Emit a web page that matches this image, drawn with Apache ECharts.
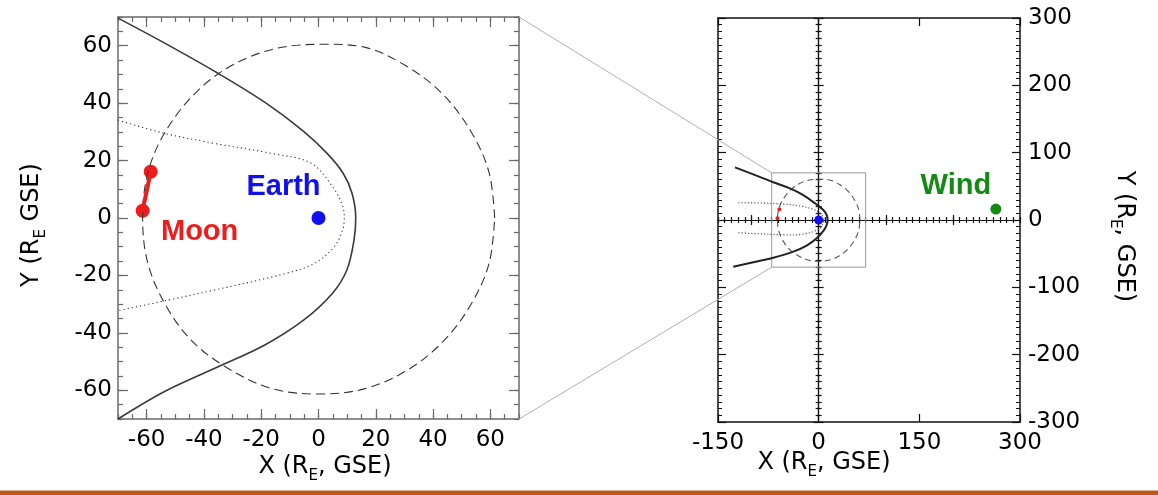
<!DOCTYPE html>
<html>
<head>
<meta charset="utf-8">
<script src="https://cdn.jsdelivr.net/npm/echarts@6.0.0/dist/echarts.min.js"></script>
<style>html,body{margin:0;padding:0;background:#fff}#c{width:1158px;height:495px}</style>
</head>
<body>
<div id="c"></div>
<script>
// ---------- data ----------
const leftExtent = [-70, 70];
const leftTicks = [-60, -40, -20, 0, 20, 40, 60];
const rightXExtent = [-150, 300];
const rightYExtent = [-300, 300];
const centerMajorX = [-100, 100, 200];

const bowShockLeft = [[-70, 69.6], [-52.6, 60.3], [-35.1, 50.4], [-18.3, 40], [-5.1, 30.1], [3, 22.5], [8.6, 15.6], [11.7, 8.6], [13, 0], [12.4, -7.7], [9.9, -18.1], [4.9, -26.2], [-5.1, -35.5], [-18.9, -44.3], [-36.4, -52.4], [-53.9, -60.5], [-70, -70]];
const magnetopauseLeft = [[-70, 34.1], [-53.9, 29.5], [-36.4, 26], [-16.4, 22.5], [-2.6, 19.1], [4.9, 10.9], [8.3, 4.5], [9, 0], [8.3, -4.5], [5.5, -10], [-1.4, -15.8], [-11.4, -19.3], [-36.4, -25.1], [-52.6, -28.6], [-70, -32.3]];
const moonOrbit = [[61.5, 0], [59.5, 16], [53, 30.5], [43, 43.5], [30.5, 53], [16, 59.5], [2, 60.5], [-15, 59], [-30.5, 53], [-43, 43.5], [-53.5, 30], [-59.5, 16], [-61.4, 0], [-59.5, -16], [-53, -31], [-43.5, -43.5], [-30.5, -53], [-16, -59.5], [0, -61.3], [16, -59.5], [31, -53], [43.5, -43], [53, -30.5], [59.5, -16], [61.5, 0]];
const moonPos = [[-61.4, 2.5], [-58.6, 16.1]];
const earthPos = [[0, 0]];

const bowShockRight = [[-124.7, 78.2], [-97.4, 67.8], [-67.6, 56], [-42.8, 47], [-22.9, 37.1], [-5.5, 24.8], [6.9, 14.9], [11.9, 7.4], [13.4, 0], [11.9, -7.4], [7.9, -14.9], [-3, -27.2], [-17.9, -38.1], [-37.8, -47], [-67.6, -56], [-97.4, -62.8], [-127.3, -69.3]];
const magnetopauseRight = [[-119.8, 25.7], [-72.6, 24.8], [-37.8, 22.3], [-15.5, 18.3], [-0.6, 12.4], [6, 6], [7.9, 0], [6, -6], [1.9, -12.4], [-13, -18.8], [-37.8, -22.3], [-72.6, -21.3], [-122, -18.8]];
const windPos = [[264, 16.3]];

// zoom box (left panel extent) drawn in right panel
const zoomBox = [[leftExtent[0], leftExtent[0]], [leftExtent[1], leftExtent[0]], [leftExtent[1], leftExtent[1]], [leftExtent[0], leftExtent[1]], [leftExtent[0], leftExtent[0]]];

// ---------- styles ----------
const FONT = "'DejaVu Sans', 'Liberation Sans', Arial, sans-serif";
const BFONT = "'Liberation Sans', Arial, Helvetica, sans-serif";
const RED = '#ee1c1c', BLUE = '#1010ee', GREEN = '#138a13';
function nameStyle(padding) {
  return {
    fontSize: 24, color: '#000', fontFamily: FONT, lineHeight: 34, padding: padding,
    rich: { sub: { fontSize: 15, lineHeight: 12, verticalAlign: 'bottom', fontFamily: FONT, color: '#000' } }
  };
}
const labelStyle = (margin) => ({ show: true, fontSize: 23, color: '#000', fontFamily: FONT, margin: margin });
const LG = '#6a6a6a';   // left box colour
const RB = '#111';      // right box colour

function axis(o) {
  const base = {
    type: 'value', splitLine: { show: false }, axisPointer: { show: false }, silent: true,
    axisLabel: { show: false }, nameMoveOverlap: false
  };
  return Object.assign(base, o);
}

const xAxes = [
  // 0 left bottom major
  axis({ gridIndex: 0, min: leftExtent[0], max: leftExtent[1], position: 'bottom',
    axisLine: { show: true, onZero: false, lineStyle: { color: LG, width: 1.5 } },
    axisTick: { show: true, inside: true, length: 10, customValues: leftTicks, lineStyle: { color: LG, width: 1.2 } },
    axisLabel: Object.assign(labelStyle(10), { customValues: leftTicks }),
    name: 'X (R{sub|E}, GSE)', nameLocation: 'middle', nameGap: 31, nameTextStyle: nameStyle([0, 0, 0, 13]) }),
  // 1 left bottom minor
  axis({ gridIndex: 0, min: leftExtent[0], max: leftExtent[1], interval: 5, position: 'bottom',
    axisLine: { show: false, onZero: false },
    axisTick: { show: true, inside: true, length: 5, lineStyle: { color: LG, width: 1.2 } } }),
  // 2 left top major
  axis({ gridIndex: 0, min: leftExtent[0], max: leftExtent[1], position: 'top',
    axisLine: { show: true, onZero: false, lineStyle: { color: LG, width: 1.5 } },
    axisTick: { show: true, inside: true, length: 10, customValues: leftTicks, lineStyle: { color: LG, width: 1.2 } } }),
  // 3 left top minor
  axis({ gridIndex: 0, min: leftExtent[0], max: leftExtent[1], interval: 5, position: 'top',
    axisLine: { show: false, onZero: false },
    axisTick: { show: true, inside: true, length: 5, lineStyle: { color: LG, width: 1.2 } } }),
  // 4 right bottom
  axis({ gridIndex: 1, min: rightXExtent[0], max: rightXExtent[1], interval: 150, position: 'bottom',
    axisLine: { show: true, onZero: false, lineStyle: { color: RB, width: 1.5 } },
    axisTick: { show: true, inside: true, length: 8, lineStyle: { color: RB, width: 1.2 } },
    axisLabel: labelStyle(10),
    name: 'X (R{sub|E}, GSE)', nameLocation: 'middle', nameGap: 24, nameTextStyle: nameStyle([0, 90, 0, 0]) }),
  // 5 right top
  axis({ gridIndex: 1, min: rightXExtent[0], max: rightXExtent[1], interval: 150, position: 'top',
    axisLine: { show: true, onZero: false, lineStyle: { color: RB, width: 1.5 } },
    axisTick: { show: true, inside: true, length: 8, lineStyle: { color: RB, width: 1.2 } } }),
  // 6 centre minor (up)
  axis({ gridIndex: 1, min: rightXExtent[0], max: rightXExtent[1], interval: 10, position: 'bottom',
    axisLine: { show: true, onZero: true, onZeroAxisIndex: 4, lineStyle: { color: RB, width: 1.2 } },
    axisTick: { show: true, inside: true, length: 3, lineStyle: { color: RB, width: 1.2 } } }),
  // 7 centre minor (down)
  axis({ gridIndex: 1, min: rightXExtent[0], max: rightXExtent[1], interval: 10, position: 'bottom',
    axisLine: { show: true, onZero: true, onZeroAxisIndex: 4, lineStyle: { color: RB, width: 1.2 } },
    axisTick: { show: true, inside: false, length: 3, lineStyle: { color: RB, width: 1.2 } } }),
  // 8 centre major (up)
  axis({ gridIndex: 1, min: rightXExtent[0], max: rightXExtent[1], position: 'bottom',
    axisLine: { show: true, onZero: true, onZeroAxisIndex: 4, lineStyle: { color: RB, width: 1.2 } },
    axisTick: { show: true, inside: true, length: 5, customValues: centerMajorX, lineStyle: { color: RB, width: 1.2 } } }),
  // 9 centre major (down)
  axis({ gridIndex: 1, min: rightXExtent[0], max: rightXExtent[1], position: 'bottom',
    axisLine: { show: true, onZero: true, onZeroAxisIndex: 4, lineStyle: { color: RB, width: 1.2 } },
    axisTick: { show: true, inside: false, length: 5, customValues: centerMajorX, lineStyle: { color: RB, width: 1.2 } } })
];

const yAxes = [
  // 0 left major (labels)
  axis({ gridIndex: 0, min: leftExtent[0], max: leftExtent[1], position: 'left',
    axisLine: { show: true, onZero: false, lineStyle: { color: LG, width: 1.5 } },
    axisTick: { show: true, inside: true, length: 10, customValues: leftTicks, lineStyle: { color: LG, width: 1.2 } },
    axisLabel: Object.assign(labelStyle(6), { customValues: leftTicks }),
    name: 'Y (R{sub|E} GSE)', nameLocation: 'middle', nameGap: 69, nameTextStyle: nameStyle([0, 14, 0, 0]) }),
  // 1 left minor
  axis({ gridIndex: 0, min: leftExtent[0], max: leftExtent[1], interval: 5, position: 'left',
    axisLine: { show: false, onZero: false },
    axisTick: { show: true, inside: true, length: 5, lineStyle: { color: LG, width: 1.2 } } }),
  // 2 left-panel right side major
  axis({ gridIndex: 0, min: leftExtent[0], max: leftExtent[1], position: 'right',
    axisLine: { show: true, onZero: false, lineStyle: { color: LG, width: 1.5 } },
    axisTick: { show: true, inside: true, length: 10, customValues: leftTicks, lineStyle: { color: LG, width: 1.2 } } }),
  // 3 left-panel right side minor
  axis({ gridIndex: 0, min: leftExtent[0], max: leftExtent[1], interval: 5, position: 'right',
    axisLine: { show: false, onZero: false },
    axisTick: { show: true, inside: true, length: 5, lineStyle: { color: LG, width: 1.2 } } }),
  // 4 right panel, right side (labels)
  axis({ gridIndex: 1, min: rightYExtent[0], max: rightYExtent[1], interval: 100, position: 'right',
    axisLine: { show: true, onZero: false, lineStyle: { color: RB, width: 1.5 } },
    axisTick: { show: true, inside: true, length: 8, lineStyle: { color: RB, width: 1.2 } },
    minorTick: { show: true, splitNumber: 10, length: 4, lineStyle: { color: RB, width: 1 } },
    axisLabel: labelStyle(8),
    name: 'Y (R{sub|E}, GSE)', nameLocation: 'middle', nameGap: 87, nameRotate: -90, nameTextStyle: nameStyle([0, 0, 0, 33]) }),
  // 5 right panel, left side
  axis({ gridIndex: 1, min: rightYExtent[0], max: rightYExtent[1], interval: 100, position: 'left',
    axisLine: { show: true, onZero: false, lineStyle: { color: RB, width: 1.5 } },
    axisTick: { show: true, inside: true, length: 8, lineStyle: { color: RB, width: 1.2 } },
    minorTick: { show: true, splitNumber: 10, length: 4, lineStyle: { color: RB, width: 1 } } }),
  // 6 centre vertical (right-pointing ticks)
  axis({ gridIndex: 1, min: rightYExtent[0], max: rightYExtent[1], interval: 100, position: 'left',
    axisLine: { show: true, onZero: true, onZeroAxisIndex: 4, lineStyle: { color: RB, width: 1.2 } },
    axisTick: { show: true, inside: true, length: 5, lineStyle: { color: RB, width: 1.2 } },
    minorTick: { show: true, splitNumber: 10, length: 3, lineStyle: { color: RB, width: 1.2 } } }),
  // 7 centre vertical (left-pointing ticks)
  axis({ gridIndex: 1, min: rightYExtent[0], max: rightYExtent[1], interval: 100, position: 'left',
    axisLine: { show: true, onZero: true, onZeroAxisIndex: 4, lineStyle: { color: RB, width: 1.2 } },
    axisTick: { show: true, inside: false, length: 5, lineStyle: { color: RB, width: 1.2 } },
    minorTick: { show: true, splitNumber: 10, length: 3, lineStyle: { color: RB, width: 1.2 } } })
];

const L = { xAxisIndex: 0, yAxisIndex: 0 };
const R = { xAxisIndex: 4, yAxisIndex: 4 };
const boldLabel = (text, color, size, offset) => ({
  show: true, formatter: text, position: 'inside', offset: offset,
  color: color, fontSize: size, fontWeight: 'bold', fontFamily: BFONT
});

const series = [
  // ----- left panel -----
  Object.assign({ type: 'line', data: moonOrbit, smooth: 0.35, symbol: 'none', silent: true,
    lineStyle: { color: '#333', width: 1.1, type: [9, 5] } }, L),
  Object.assign({ type: 'line', data: magnetopauseLeft, smooth: 0.35, symbol: 'none', silent: true,
    lineStyle: { color: '#333', width: 1.1, type: [1.2, 3] } }, L),
  Object.assign({ type: 'line', data: bowShockLeft, smooth: 0.35, symbol: 'none', silent: true,
    lineStyle: { color: '#3a3a3a', width: 1.6 } }, L),
  Object.assign({ type: 'line', data: moonPos, symbol: 'none', silent: true,
    lineStyle: { color: RED, width: 4 } }, L),
  Object.assign({ type: 'scatter', silent: true, symbolSize: 14, itemStyle: { color: RED, opacity: 1 },
    data: moonPos.map((p, i) => i === 0 ? { value: p, label: boldLabel('Moon', RED, 29, [57, 21]) } : { value: p }) }, L),
  Object.assign({ type: 'scatter', silent: true, symbolSize: 14, itemStyle: { color: BLUE, opacity: 1 },
    data: earthPos.map(p => ({ value: p, label: boldLabel('Earth', BLUE, 29, [-35, -31]) })) }, L),
  // ----- right panel -----
  Object.assign({ type: 'line', data: zoomBox, symbol: 'none', silent: true,
    lineStyle: { color: '#9a9a9a', width: 1 } }, R),
  Object.assign({ type: 'line', data: moonOrbit, smooth: 0.35, symbol: 'none', silent: true,
    lineStyle: { color: '#555', width: 1.1, type: [6, 4] } }, R),
  Object.assign({ type: 'line', data: magnetopauseRight, smooth: 0.3, symbol: 'none', silent: true,
    lineStyle: { color: '#444', width: 1.1, type: [1.2, 2] } }, R),
  Object.assign({ type: 'line', data: bowShockRight, smooth: 0.35, symbol: 'none', silent: true,
    lineStyle: { color: '#222', width: 2 } }, R),
  Object.assign({ type: 'scatter', silent: true, symbolSize: 4, itemStyle: { color: RED, opacity: 1 }, data: moonPos }, R),
  Object.assign({ type: 'scatter', silent: true, symbolSize: 9, itemStyle: { color: BLUE, opacity: 1 }, data: earthPos }, R),
  Object.assign({ type: 'scatter', silent: true, symbolSize: 11, itemStyle: { color: GREEN, opacity: 1 },
    data: windPos.map(p => ({ value: p, label: boldLabel('Wind', GREEN, 29, [-40, -23]) })) }, R)
];

const chart = echarts.init(document.getElementById('c'), null, { renderer: 'canvas' });
chart.setOption({
  animation: false,
  backgroundColor: '#fff',
  grid: [
    { left: 118, top: 17, width: 401, height: 402, outerBoundsMode: 'none', containLabel: false },
    { left: 718, top: 18, width: 302, height: 404, outerBoundsMode: 'none', containLabel: false }
  ],
  xAxis: xAxes,
  yAxis: yAxes,
  series: series
});

// connector lines from the left panel's corners to the zoom box in the right panel
const a1 = chart.convertToPixel(L, [leftExtent[1], leftExtent[1]]);
const b1 = chart.convertToPixel(R, [leftExtent[0], leftExtent[1]]);
const a2 = chart.convertToPixel(L, [leftExtent[1], leftExtent[0]]);
const b2 = chart.convertToPixel(R, [leftExtent[0], leftExtent[0]]);
chart.setOption({
  graphic: [
    { type: 'line', silent: true, z: 1, shape: { x1: a1[0], y1: a1[1], x2: b1[0], y2: b1[1] }, style: { stroke: '#b0b0b0', lineWidth: 1 } },
    { type: 'line', silent: true, z: 1, shape: { x1: a2[0], y1: a2[1], x2: b2[0], y2: b2[1] }, style: { stroke: '#b0b0b0', lineWidth: 1 } },
    { type: 'rect', silent: true, left: 0, bottom: 0, shape: { width: 1158, height: 4.5 }, style: { fill: '#c0561a' } }
  ]
});
</script>
</body>
</html>
